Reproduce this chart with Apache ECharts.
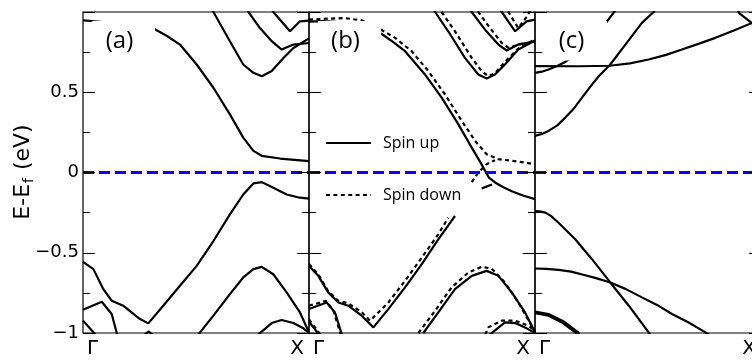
<!DOCTYPE html>
<html>
<head>
<meta charset="utf-8">
<script src="https://cdn.jsdelivr.net/npm/echarts@6/dist/echarts.min.js"></script>
<style>
html, body { margin: 0; padding: 0; background: #fff; }
#chart { width: 752px; height: 362px; }
</style>
</head>
<body>
<div id="chart"></div>
<script>
// Band energies E - E_F (eV) along the Γ–X path; k is the fraction of the path.
const panelTags = ['(a)', '(b)', '(c)'];
const kPointLabels = ['Γ', 'X'];
const energyTicks = [-1, -0.5, 0, 0.5];
const energyTickLabels = ['\u22121', '\u22120.5', '0', '0.5'];
const fermiLevel = [[0, 0], [1, 0]];

// ---- panel (a) ----
const aBand1 = [[0,0.948],[0.04,0.944],[0.10,0.935],[0.18,0.925],[0.25,0.912],[0.314,0.896],[0.37,0.852],[0.429,0.797],[0.503,0.673],[0.577,0.528],[0.65,0.362],[0.709,0.217],[0.754,0.135],[0.791,0.104],[0.872,0.087],[1,0.071]];
const aBand2 = [[0.56,1.04],[0.577,1.0],[0.65,0.818],[0.709,0.673],[0.754,0.621],[0.791,0.6],[0.835,0.632],[0.887,0.714],[0.931,0.776],[1,0.836]];
const aBand3 = [[0.72,1.04],[0.732,1.0],[0.783,0.9],[0.835,0.818],[0.879,0.766],[0.931,0.797],[1,0.807]];
const aBand4 = [[0.825,1.04],[0.842,1.0],[0.916,0.88],[0.96,0.942],[1,0.946]];
const aBand5 = [[0,-0.557],[0.046,-0.602],[0.09,-0.727],[0.127,-0.799],[0.178,-0.83],[0.252,-0.913],[0.289,-0.94],[0.355,-0.83],[0.429,-0.706],[0.503,-0.582],[0.577,-0.427],[0.65,-0.261],[0.709,-0.137],[0.754,-0.068],[0.791,-0.06],[0.842,-0.095],[0.901,-0.137],[0.96,-0.157],[1,-0.163]];
const aBand6 = [[0,-0.855],[0.083,-0.805],[0.127,-0.882],[0.155,-1.03]];
const aBand7 = [[0,-0.923],[0.055,-1.01]];
const aBand8 = [[0.51,-1.01],[0.577,-0.892],[0.65,-0.758],[0.709,-0.654],[0.754,-0.602],[0.791,-0.588],[0.842,-0.634],[0.901,-0.747],[0.96,-0.872],[1,-0.996]];
const aBand9 = [[0.775,-1.01],[0.835,-0.938],[0.879,-0.919],[0.931,-0.938],[0.975,-0.971],[1,-1.0]];
const aBand10 = [[0.265,-1.02],[0.29,-0.99],[0.315,-1.02]];

// ---- panel (b), spin up ----
const bUp1 = [[0,0.94],[0.06,0.943],[0.15,0.935],[0.22,0.915],[0.28,0.885],[0.322,0.863],[0.37,0.815],[0.425,0.756],[0.513,0.611],[0.587,0.466],[0.661,0.3],[0.72,0.155],[0.76,0.06],[0.779,0.011],[0.795,-0.03],[0.823,-0.062],[0.86,-0.092],[0.9,-0.118],[0.95,-0.145],[1,-0.166]];
const bUp2 = [[0.542,1.04],[0.558,1.0],[0.616,0.88],[0.69,0.714],[0.749,0.611],[0.786,0.586],[0.823,0.611],[0.867,0.673],[0.926,0.766],[1,0.822]];
const bUp3 = [[0.7,1.04],[0.72,1.0],[0.779,0.89],[0.838,0.797],[0.875,0.76],[0.926,0.797],[1,0.818]];
const bUp4 = [[0.83,1.04],[0.853,1.0],[0.912,0.88],[0.963,0.942],[1,0.952]];
const bUp5 = [[0,-0.582],[0.041,-0.644],[0.085,-0.747],[0.13,-0.81],[0.174,-0.83],[0.233,-0.892],[0.285,-0.965],[0.351,-0.851],[0.425,-0.716],[0.499,-0.571],[0.572,-0.416],[0.646,-0.271]];
const bUp6 = [[0,-0.851],[0.078,-0.81],[0.115,-0.872],[0.15,-1.03]];
const bUp7 = [[0,-0.93],[0.045,-1.01]];
const bUp8 = [[0.506,-1.0],[0.572,-0.872],[0.646,-0.727],[0.72,-0.644],[0.786,-0.613],[0.838,-0.644],[0.897,-0.747],[0.956,-0.872],[1,-0.996]];
const bUp9 = [[0.8,-1.01],[0.867,-0.934],[0.912,-0.938],[0.963,-0.971],[1,-1.0]];
const bUp10 = [[0.764,-0.10],[0.785,-0.088],[0.81,-0.075]];

// ---- panel (b), spin down ----
const bDown1 = [[0,0.952],[0.071,0.958],[0.159,0.962],[0.233,0.948],[0.307,0.9],[0.381,0.839],[0.454,0.756],[0.528,0.632],[0.602,0.486],[0.676,0.321],[0.735,0.197],[0.786,0.114],[0.838,0.083],[0.926,0.068],[1,0.052]];
const bDown2 = [[0.57,1.04],[0.587,1.0],[0.646,0.88],[0.72,0.714],[0.764,0.632],[0.793,0.6],[0.823,0.618],[0.867,0.69],[0.926,0.772],[1,0.83]];
const bDown3 = [[0.727,1.04],[0.749,1.0],[0.801,0.9],[0.853,0.807],[0.885,0.775],[0.93,0.8],[1,0.812]];
const bDown4 = [[0.86,1.04],[0.882,1.0],[0.926,0.9],[0.97,0.983],[0.985,1.03]];
const bDown5 = [[0,-0.57],[0.041,-0.635],[0.085,-0.74],[0.13,-0.8],[0.174,-0.815],[0.233,-0.87],[0.27,-0.923],[0.351,-0.81],[0.425,-0.675],[0.499,-0.53],[0.572,-0.385],[0.616,-0.282]];
const bDown6 = [[0,-0.83],[0.075,-0.8],[0.108,-0.86],[0.145,-1.03]];
const bDown7 = [[0,-0.915],[0.05,-1.01]];
const bDown8 = [[0.484,-1.0],[0.558,-0.861],[0.631,-0.716],[0.705,-0.623],[0.764,-0.588],[0.808,-0.598],[0.867,-0.685],[0.926,-0.81],[0.985,-0.955],[1,-0.99]];
const bDown9 = [[0.78,-1.01],[0.793,-0.965],[0.853,-0.923],[0.912,-0.923],[0.97,-0.955],[1,-0.985]];
const bDown10 = [[0.72,-0.06],[0.749,0.0],[0.786,0.052],[0.823,0.076]];

// ---- panel (c) ----
const cBand1 = [[0,0.663],[0.2,0.662],[0.33,0.665],[0.42,0.68],[0.503,0.704],[0.58,0.733],[0.65,0.766],[0.72,0.8],[0.798,0.839],[0.88,0.885],[0.96,0.932],[1,0.955]];
const cBand2 = [[0,0.621],[0.03,0.628],[0.06,0.642],[0.1,0.665],[0.134,0.689],[0.2,0.76],[0.26,0.84],[0.319,0.942],[0.35,1.0],[0.36,1.02]];
const cBand3 = [[0,0.228],[0.03,0.24],[0.06,0.259],[0.1,0.295],[0.134,0.342],[0.17,0.395],[0.208,0.466],[0.245,0.535],[0.282,0.6],[0.333,0.673],[0.4,0.797],[0.473,0.932],[0.525,1.0],[0.54,1.03]];
const cBand4 = [[0.89,1.02],[0.906,0.99],[0.96,0.93],[1,0.88]];
const cBand5 = [[0,-0.24],[0.02,-0.242],[0.046,-0.25],[0.07,-0.27],[0.104,-0.313],[0.178,-0.416],[0.252,-0.54],[0.333,-0.685],[0.415,-0.83],[0.503,-0.996],[0.51,-1.01]];
const cBand6 = [[0,-0.598],[0.05,-0.6],[0.104,-0.607],[0.16,-0.618],[0.222,-0.64],[0.27,-0.658],[0.333,-0.685],[0.4,-0.725],[0.473,-0.778],[0.54,-0.825],[0.606,-0.882],[0.68,-0.935],[0.754,-0.996],[0.77,-1.01]];
const cBand7 = [[0,-0.876],[0.06,-0.892],[0.119,-0.934],[0.178,-0.996],[0.185,-1.01]];
const cBand8 = [[0,-0.866],[0.06,-0.882],[0.125,-0.926],[0.19,-0.994],[0.197,-1.01]];

const panelABands = [aBand1, aBand2, aBand3, aBand4, aBand5, aBand6, aBand7, aBand8, aBand9, aBand10];
const panelBUp = [bUp1, bUp2, bUp3, bUp4, bUp5, bUp6, bUp7, bUp8, bUp9, bUp10];
const panelBDown = [bDown1, bDown2, bDown3, bDown4, bDown5, bDown6, bDown7, bDown8, bDown9, bDown10];
const panelCBands = [cBand1, cBand2, cBand3, cBand4, cBand5, cBand6, cBand7, cBand8];

// ---- layout ----
const plotTop = 12, plotHeight = 321, panelWidth = 226;
const panelLefts = [83, 309, 535];
const tickFont = 'DejaVu Sans';
const SOLID = 'solid';
const DOTTED = [4, 3.4];

const grids = panelLefts.map(l => ({
  left: l, top: plotTop, width: panelWidth, height: plotHeight,
  show: true, borderColor: '#000', borderWidth: 1.2, backgroundColor: 'transparent',
  outerBoundsMode: 'none', containLabel: false
}));

const xAxes = panelLefts.map((l, i) => ({
  type: 'value', gridIndex: i, min: 0, max: 1, interval: 1,
  axisLine: { show: false }, axisTick: { show: false }, splitLine: { show: false },
  axisLabel: {
    show: true, showMinLabel: true, showMaxLabel: true, margin: 6,
    formatter: v => v === 0 ? '{g|' + kPointLabels[0] + '}' : '{x|' + kPointLabels[1] + '}',
    rich: {
      g: { fontFamily: tickFont, fontSize: 20, color: '#000', padding: [0, 0, 0, 19] },
      x: { fontFamily: tickFont, fontSize: 20, color: '#000', padding: [0, 24, 0, 0] }
    }
  }
}));

function energyAxis(gridIndex, position, withLabels) {
  return {
    type: 'value', gridIndex, position, min: -1, max: 1, interval: 0.5, z: 10,
    axisLine: { show: false },
    axisTick: { show: true, inside: true, length: 12, lineStyle: { color: '#000', width: 1.1 } },
    minorTick: { show: true, splitNumber: 2, length: 7, lineStyle: { color: '#000', width: 1.1 } },
    splitLine: { show: false }, minorSplitLine: { show: false },
    axisLabel: {
      show: withLabels, margin: 4, color: '#000', fontFamily: tickFont, fontSize: 18,
      formatter: v => { const i = energyTicks.indexOf(v); return i < 0 ? '' : energyTickLabels[i]; }
    }
  };
}
const yAxes = [];
panelLefts.forEach((l, i) => {
  yAxes.push(energyAxis(i, 'left', i === 0));
  yAxes.push(energyAxis(i, 'right', false));
});

function band(name, data, gridIndex, dash) {
  return {
    type: 'line', name, data, xAxisIndex: gridIndex, yAxisIndex: gridIndex * 2,
    symbol: 'none', showSymbol: false, silent: true, animation: false, z: 2,
    lineStyle: { color: '#000', width: 2.2, type: dash, cap: 'butt' },
    itemStyle: { color: '#000' }
  };
}

const series = [];
panelABands.forEach(d => series.push(band('bands (a)', d, 0, SOLID)));
panelBUp.forEach(d => series.push(band('Spin up', d, 1, SOLID)));
panelBDown.forEach(d => series.push(band('Spin down', d, 1, DOTTED)));
panelCBands.forEach(d => series.push(band('bands (c)', d, 2, SOLID)));
panelLefts.forEach((l, i) => series.push({
  type: 'line', name: 'E_F', data: fermiLevel, xAxisIndex: i, yAxisIndex: i * 2,
  symbol: 'none', silent: true, animation: false, z: 3,
  lineStyle: { color: '#0000ff', width: 3, type: [11, 5] }
}));

// panel tags sit on white boxes drawn over the bands
const tagGraphics = [];
panelLefts.forEach((l, i) => {
  tagGraphics.push({
    type: 'rect', z: 50, silent: true,
    shape: { x: l + 9, y: 21, width: 63, height: 39.5 },
    style: { fill: '#fff' }
  });
  tagGraphics.push({
    type: 'text', z: 51, silent: true, x: l + 36.5, y: 41,
    style: { text: panelTags[i], fontFamily: 'Open Sans', fontSize: 24, fill: '#000',
             align: 'center', verticalAlign: 'middle' }
  });
});

const axisTitle = {
  type: 'text', z: 51, silent: true, x: 23, y: 172, rotation: Math.PI / 2,
  style: {
    text: '{m|E-E}{s|f}{m| (eV)}', align: 'center', verticalAlign: 'middle',
    rich: {
      m: { fontFamily: tickFont, fontSize: 22, fill: '#000', lineHeight: 26, verticalAlign: 'middle' },
      s: { fontFamily: tickFont, fontSize: 14, fill: '#000', lineHeight: 26, verticalAlign: 'bottom', padding: [0, 1, 0, 1] }
    }
  }
};

const chart = echarts.init(document.getElementById('chart'), null, { renderer: 'canvas' });
chart.setOption({
  backgroundColor: '#fff',
  animation: false,
  grid: grids,
  xAxis: xAxes,
  yAxis: yAxes,
  legend: {
    data: ['Spin up', 'Spin down'], orient: 'vertical', left: 325, top: 135, padding: 0,
    itemWidth: 45, itemHeight: 20, itemGap: 36, selectedMode: false,
    // line samples only, no marker in the middle
    itemStyle: { opacity: 0, color: 'rgba(0,0,0,0)', borderWidth: 0 },
    textStyle: { fontFamily: 'Open Sans', fontSize: 16, color: '#000', padding: [0, 0, 0, 7] }
  },
  series,
  graphic: [axisTitle, ...tagGraphics]
});
</script>
</body>
</html>
